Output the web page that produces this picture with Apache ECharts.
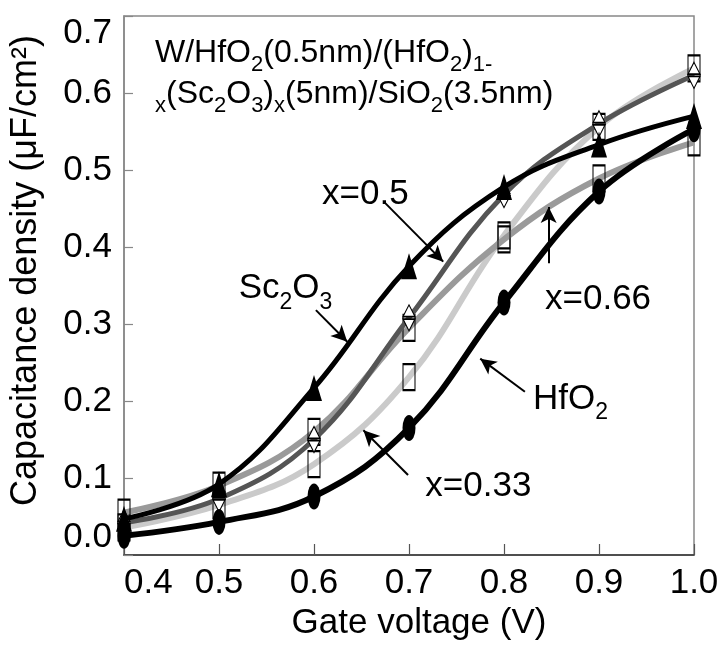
<!DOCTYPE html>
<html>
<head>
<meta charset="utf-8">
<script src="https://cdn.jsdelivr.net/npm/echarts@6/dist/echarts.min.js"></script>
<style>
html,body{margin:0;padding:0;background:#fff;}
#chart{width:725px;height:646px;}
</style>
</head>
<body>
<div id="chart"></div>
<script>
// ---- data ----
var voltage = [0.4, 0.5, 0.6, 0.7, 0.8, 0.9, 1.0];
var hfo2    = [0.025, 0.043, 0.076, 0.165, 0.328, 0.472, 0.553];
var sc2o3   = [0.047, 0.092, 0.217, 0.375, 0.478, 0.533, 0.570];
var x050    = [0.042, 0.073, 0.150, 0.308, 0.468, 0.560, 0.623];
var x066    = [0.055, 0.090, 0.160, 0.295, 0.410, 0.489, 0.536];
var x033    = [0.036, 0.065, 0.118, 0.231, 0.415, 0.556, 0.632];
var xTicks  = [0.4, 0.5, 0.6, 0.7, 0.8, 0.9, 1.0];
var yTicks  = [0.0, 0.1, 0.2, 0.3, 0.4, 0.5, 0.6, 0.7];

// annotation arrows: [from, to] in data coordinates
var arrows = [
  [[0.675, 0.457], [0.736, 0.381]],   // x=0.5
  [[0.602, 0.318], [0.635, 0.277]],   // Sc2O3
  [[0.847, 0.379], [0.847, 0.452]],   // x=0.66
  [[0.822, 0.212], [0.775, 0.255]],   // HfO2
  [[0.699, 0.104], [0.652, 0.162]]    // x=0.33
];
// annotation labels (rich text) and their anchor in data coordinates
var labelTexts = [
  '{m|x=0.5}',
  '{m|Sc}{s|2}{m|O}{s|3}',
  '{m|x=0.66}',
  '{m|HfO}{s|2}',
  '{m|x=0.33}'
];
var labelAnchors = [
  [0.654, 0.471],
  [0.570, 0.349],
  [0.899, 0.335],
  [0.870, 0.206],
  [0.773, 0.092]
];

var FONT = '"Liberation Sans", Arial, sans-serif';

function pairs(xs, ys) { return xs.map(function (x, i) { return [x, ys[i]]; }); }

var richStyles = {
  m: { fontFamily: FONT, fontSize: 35, fontWeight: 'normal', color: '#000', lineHeight: 40, verticalAlign: 'bottom' },
  s: { fontFamily: FONT, fontSize: 23, fontWeight: 'normal', color: '#000', lineHeight: 40, verticalAlign: 'bottom', padding: [0, 0, -8, 0] }
};
var titleRich = {
  m: { fontFamily: FONT, fontSize: 32, fontWeight: 'normal', color: '#000', lineHeight: 41, verticalAlign: 'bottom' },
  s: { fontFamily: FONT, fontSize: 22, fontWeight: 'normal', color: '#000', lineHeight: 41, verticalAlign: 'bottom', padding: [0, 0, -7, 0] }
};

var upDownTri = 'path://M5,0 L10,10 L0,10 Z M0,12 L10,12 L5,22 Z';

var chart = echarts.init(document.getElementById('chart'), null, { renderer: 'canvas' });

var option = {
  backgroundColor: '#fff',
  animation: false,
  title: {
    left: 150, top: 23,
    text: '{m|W/HfO}{s|2}{m|(0.5nm)/(HfO}{s|2}{m|)}{s|1-}\n{s|x}{m|(Sc}{s|2}{m|O}{s|3}{m|)}{s|x}{m|(5nm)/SiO}{s|2}{m|(3.5nm)}',
    textStyle: { fontWeight: 'normal', rich: titleRich }
  },
  grid: {
    left: 123, right: 31, top: 16, bottom: 91,
    show: true, borderColor: '#888', borderWidth: 1.5, backgroundColor: 'transparent'
  },
  xAxis: {
    type: 'value', min: 0.4, max: 1.0, interval: 0.1,
    name: 'Gate voltage (V)', nameLocation: 'middle', nameGap: 40,
    nameTextStyle: { fontFamily: FONT, fontSize: 35, color: '#000', padding: [0, 0, 0, 20] },
    axisLine: { lineStyle: { color: '#333', width: 1.5 } },
    axisTick: { inside: true, length: 11, lineStyle: { color: '#555', width: 1.2 } },
    splitLine: { show: false },
    axisLabel: {
      fontFamily: FONT, fontSize: 35, color: '#000', margin: 11,
      alignMinLabel: 'left',
      formatter: function (v) { return v.toFixed(1); }
    }
  },
  yAxis: {
    type: 'value', min: 0, max: 0.7, interval: 0.1,
    name: 'Capacitance density (μF/cm²)', nameLocation: 'middle', nameGap: 80, nameRotate: 90,
    nameTextStyle: { fontFamily: FONT, fontSize: 36, color: '#000', padding: [0, 0, 0, 30] },
    axisLine: { show: true, lineStyle: { color: '#888', width: 1.5 } },
    axisTick: { show: true, inside: true, length: 9, lineStyle: { color: '#888', width: 1.2 } },
    splitLine: { show: false },
    axisLabel: {
      fontFamily: FONT, fontSize: 35, color: '#000', margin: 12,
      verticalAlignMinLabel: 'bottom', verticalAlignMaxLabel: 'top',
      formatter: function (v) { return v.toFixed(1); }
    }
  },
  series: [
    {
      name: 'x=0.33', type: 'line', smooth: 0.4, data: pairs(voltage, x033), z: 2,
      lineStyle: { color: '#cacaca', width: 6 },
      symbol: 'rect', symbolSize: [12, 26],
      itemStyle: { color: 'rgba(255,255,255,0)', borderColor: '#000', borderWidth: 1.5 }
    },
    {
      name: 'x=0.66', type: 'line', smooth: 0.4, data: pairs(voltage, x066), z: 3,
      lineStyle: { color: '#9a9a9a', width: 6 },
      symbol: 'rect', symbolSize: [12, 26],
      itemStyle: { color: 'rgba(255,255,255,0)', borderColor: '#000', borderWidth: 1.5 }
    },
    {
      name: 'x=0.5', type: 'line', smooth: 0.4, data: pairs(voltage, x050), z: 4,
      lineStyle: { color: '#555', width: 5 },
      symbol: upDownTri, symbolSize: [12, 26],
      itemStyle: { color: '#fff', borderColor: '#000', borderWidth: 1.2 }
    },
    {
      name: 'Sc2O3', type: 'line', smooth: 0.4, data: pairs(voltage, sc2o3), z: 5,
      lineStyle: { color: '#000', width: 5 },
      symbol: 'triangle', symbolSize: [16, 26],
      itemStyle: { color: '#000' }
    },
    {
      name: 'HfO2', type: 'line', smooth: 0.4, data: pairs(voltage, hfo2), z: 6,
      lineStyle: { color: '#000', width: 6 },
      symbol: 'circle', symbolSize: [13, 26],
      itemStyle: { color: '#000' }
    },
    {
      name: 'annotations', type: 'scatter', data: [], z: 10,
      markLine: {
        silent: true, animation: false,
        symbol: ['none', 'arrow'], symbolSize: [12, 16],
        lineStyle: { color: '#000', width: 2, type: 'solid' },
        label: { show: false },
        data: arrows.map(function (a) { return [{ coord: a[0] }, { coord: a[1] }]; })
      },
      markPoint: {
        silent: true, animation: false,
        symbol: 'circle', symbolSize: 0,
        label: { show: true, position: 'inside', rich: richStyles },
        data: labelAnchors.map(function (c, i) {
          return { coord: c, label: { formatter: labelTexts[i] } };
        })
      }
    }
  ]
};
chart.setOption(option);
</script>
</body>
</html>
